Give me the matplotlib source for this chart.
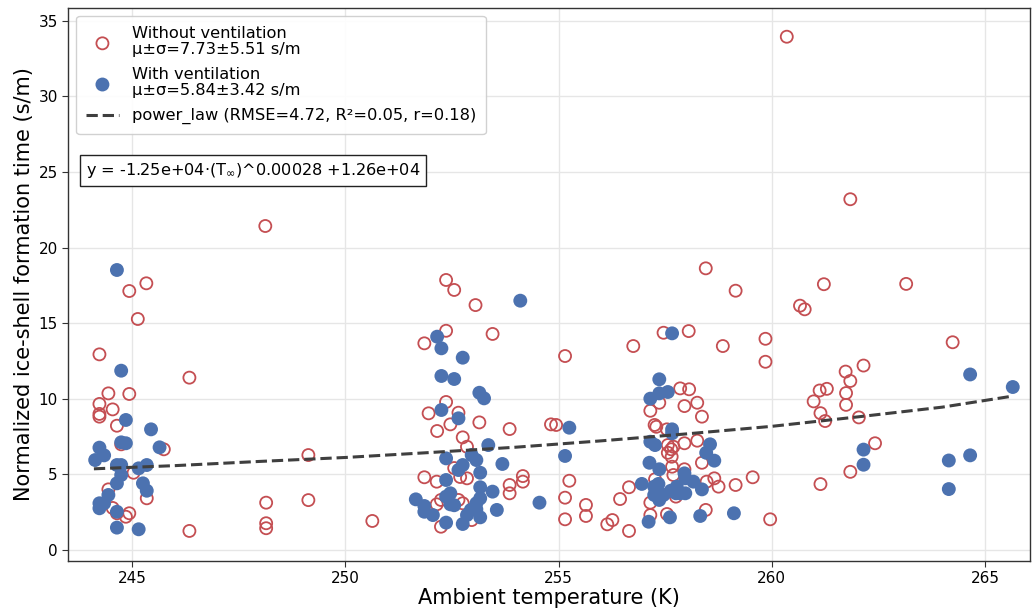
import matplotlib
matplotlib.use("Agg")
import matplotlib.pyplot as plt

# without ventilation (open red circles)
t_no = [245.33, 244.93, 245.13, 244.23, 246.34, 244.44, 244.93, 244.23, 244.54, 244.23,
        244.23, 244.64, 244.74, 245.74, 245.03, 244.44, 245.34, 244.54, 244.64, 244.85,
        244.93, 246.34, 248.14, 248.14, 248.14, 248.12, 249.13, 249.13, 250.63,
        252.36, 252.55, 253.05, 252.36, 253.45, 251.85, 255.15, 252.36, 251.95, 252.65,
        252.46, 253.14, 252.15, 253.85, 254.82, 254.94, 252.75, 252.85, 251.85, 252.14,
        252.85, 254.16, 254.16, 253.85, 253.85, 255.25, 252.14, 252.24, 252.65, 252.75,
        252.24, 255.15, 255.15, 255.64, 255.64, 252.55, 252.69, 252.96,
        258.45, 259.15, 257.46, 258.05, 256.75, 258.85, 259.85, 259.85, 257.36, 257.85,
        258.06, 257.95, 258.25, 257.15, 258.36, 257.25, 257.29, 257.54, 258.25, 257.95,
        257.56, 257.69, 257.64, 257.56, 257.65, 257.66, 258.36, 257.95, 257.69, 257.26,
        256.65, 256.44, 258.65, 258.75, 258.47, 259.15, 259.55, 257.75, 257.15, 258.45,
        257.54, 257.15, 256.14, 256.26, 256.65, 259.96,
        260.35, 261.84, 261.22, 263.15, 260.66, 260.77, 264.24, 262.15, 261.73, 261.84,
        261.74, 261.74, 261.12, 261.29, 260.98, 261.14, 261.25, 262.04, 262.42, 261.84,
        261.14]
y_no = [17.64, 17.13, 15.28, 12.94, 11.40, 10.36, 10.32, 9.66, 9.30, 9.00,
        8.82, 8.22, 6.99, 6.66, 5.11, 4.01, 3.42, 2.78, 2.43, 2.20,
        2.43, 1.26, 3.13, 1.77, 1.44, 21.43, 3.30, 6.28, 1.92,
        17.86, 17.20, 16.20, 14.50, 14.29, 13.67, 12.83, 9.79, 9.04, 9.08,
        8.31, 8.44, 7.87, 8.00, 8.31, 8.27, 7.45, 6.83, 4.81, 4.52,
        4.74, 4.89, 4.52, 4.30, 3.75, 4.58, 3.02, 3.31, 3.31, 3.09,
        1.54, 3.46, 2.03, 2.98, 2.25, 5.42, 4.83, 1.98,
        18.63, 17.15, 14.37, 14.48, 13.49, 13.49, 13.97, 12.45, 9.74, 10.69,
        10.63, 9.52, 9.74, 9.21, 8.82, 8.27, 8.15, 7.98, 7.23, 7.06,
        6.94, 6.83, 6.66, 6.43, 6.17, 5.51, 5.77, 5.34, 4.96, 4.68,
        4.15, 3.37, 4.74, 4.19, 4.52, 4.30, 4.81, 3.53, 3.13, 2.65,
        2.38, 2.31, 1.70, 1.98, 1.26, 2.03,
        33.95, 23.2, 17.58, 17.60, 16.16, 15.92, 13.74, 12.20, 11.80, 11.18,
        10.38, 9.60, 10.55, 10.66, 9.83, 9.05, 8.53, 8.77, 7.06, 5.17,
        4.36]

# with ventilation (filled blue circles)
t_yes = [244.64, 244.74, 244.85, 245.44, 244.74, 244.85, 244.23, 244.34, 244.13, 245.64,
         244.64, 244.74, 245.15, 245.34, 244.74, 244.64, 245.25, 245.34, 244.44, 244.23,
         244.23, 244.34, 244.64, 244.64, 245.15,
         254.10, 252.15, 252.25, 252.75, 252.25, 252.55, 253.14, 253.25, 252.25, 252.65,
         255.25, 253.35, 252.36, 252.96, 253.07, 252.75, 252.65, 253.68, 255.15, 253.16,
         252.36, 253.16, 253.45, 252.46, 251.65, 251.85, 251.85, 252.05, 252.36, 252.46,
         252.55, 253.07, 253.16, 252.94, 252.85, 253.07, 253.55, 254.55, 252.36, 252.75,
         253.16,
         257.66, 257.36, 257.36, 257.56, 257.15, 257.66, 257.66, 257.15, 257.26, 258.55,
         258.46, 258.65, 257.13, 257.36, 257.95, 257.97, 256.95, 257.34, 257.24, 258.16,
         258.36, 257.77, 257.63, 257.75, 257.85, 257.97, 257.24, 257.36, 257.46, 257.11,
         257.61, 258.32, 259.11,
         264.65, 265.65, 262.15, 262.15, 264.15, 264.65, 264.15]
y_yes = [18.52, 11.86, 8.60, 7.98, 7.12, 7.06, 6.77, 6.26, 5.95, 6.79,
         5.62, 5.62, 5.40, 5.62, 4.96, 4.41, 4.41, 3.92, 3.64, 3.09,
         2.76, 3.09, 2.53, 1.48, 1.37,
         16.49, 14.11, 13.34, 12.72, 11.51, 11.31, 10.40, 10.03, 9.26, 8.71,
         8.09, 6.94, 6.06, 6.28, 5.95, 5.62, 5.29, 5.69, 6.22, 5.11,
         4.63, 4.15, 3.86, 3.75, 3.35, 2.91, 2.53, 2.31, 3.53, 3.02,
         2.96, 3.09, 3.42, 2.65, 2.31, 2.69, 2.65, 3.13, 1.81, 1.72,
         2.16,
         14.33, 11.29, 10.36, 10.45, 10.01, 7.98, 7.72, 7.16, 6.94, 6.99,
         6.43, 5.91, 5.77, 5.34, 5.07, 4.74, 4.37, 4.37, 4.19, 4.52,
         4.01, 4.19, 3.92, 3.75, 3.75, 3.75, 3.64, 3.31, 3.64, 1.87,
         2.16, 2.25, 2.43,
         11.61, 10.78, 6.64, 5.64, 5.92, 6.26, 4.03]

# fitted power-law curve
fit_t = [244.1, 246, 248, 250, 252, 254, 256, 258, 260, 262, 264, 265.65]
fit_y = [5.37, 5.58, 5.86, 6.12, 6.45, 6.80, 7.22, 7.68, 8.18, 8.80, 9.45, 10.18]

lab_no = "Without ventilation\nμ±σ=7.73±5.51 s/m"
lab_yes = "With ventilation\nμ±σ=5.84±3.42 s/m"
lab_fit = "power_law (RMSE=4.72, R²=0.05, r=0.18)"
eq_text = "y = -1.25e+04·(T$_{\\infty}$)^0.00028 +1.26e+04"

red = "#c44e52"
blue = "#4c72b0"

fig = plt.figure(figsize=(10.35, 6.15), dpi=100)
ax = fig.add_axes([0.066, 0.088, 0.929, 0.899])

ax.scatter(t_no, y_no, s=75, facecolors="none", edgecolors=red, linewidths=1.3,
           label=lab_no, zorder=3)
ax.scatter(t_yes, y_yes, s=100, color=blue, edgecolors="none", label=lab_yes, zorder=3)
ax.plot(fit_t, fit_y, "--", color="#3f3f3f", lw=2.2, label=lab_fit, zorder=4)

ax.set_xlim(243.5, 266.05)
ax.set_ylim(-0.72, 35.85)
ax.set_xticks([245, 250, 255, 260, 265])
ax.set_yticks([0, 5, 10, 15, 20, 25, 30, 35])
ax.grid(True, color="#e6e6e6", lw=1)
ax.set_axisbelow(True)
for sp in ax.spines.values():
    sp.set_color("#333333")
    sp.set_linewidth(1.0)
ax.tick_params(labelsize=11, length=4, color="#333333")

ax.set_xlabel("Ambient temperature (K)", fontsize=15, labelpad=1)
ax.set_ylabel("Normalized ice-shell formation time (s/m)", fontsize=15, labelpad=3)

leg = ax.legend(loc="upper left", fontsize=11.7, framealpha=0.9, edgecolor="#cccccc",
                borderaxespad=0.5, borderpad=0.6, labelspacing=0.6)
for t in leg.get_texts():
    t.set_linespacing(1.12)
ax.text(0.018, 0.706, eq_text, transform=ax.transAxes, fontsize=11.6, va="center",
        bbox=dict(boxstyle="square,pad=0.35", facecolor="white", edgecolor="#222222"))

fig.savefig("out.png", dpi=100)
